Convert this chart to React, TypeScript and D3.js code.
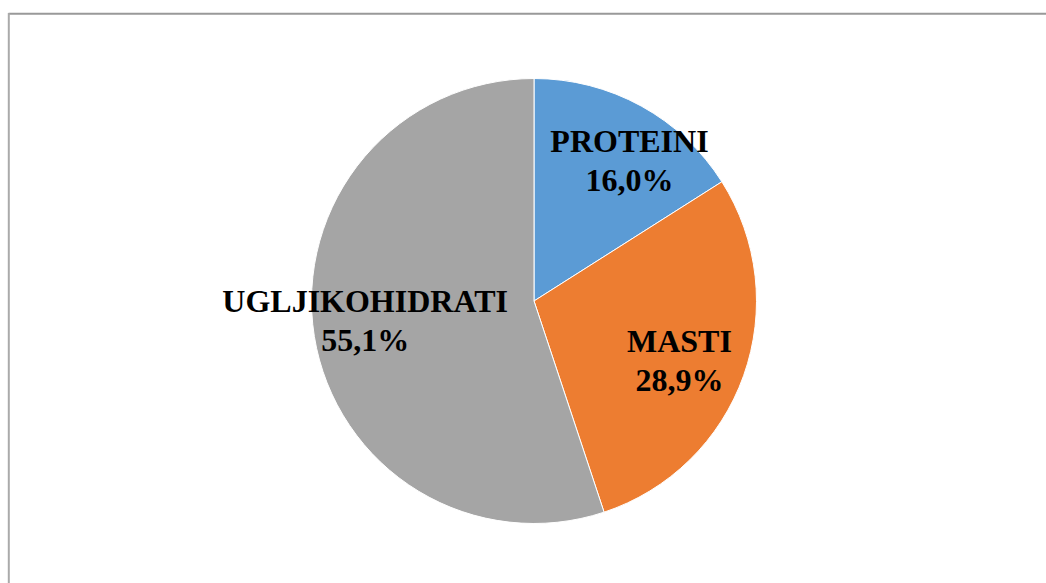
import React from "react";
import * as d3 from "d3";

const categories = ["PROTEINI", "MASTI", "UGLJIKOHIDRATI"];
const values = [16.0, 28.9, 55.1];
const valueLabels = ["16,0%", "28,9%", "55,1%"];
const colors = ["#5B9BD5", "#ED7D31", "#A5A5A5"];
const labelOffsets = [
  [16, 15],
  [-10, 15],
  [-6, 4],
];

const W = 1046;
const H = 583;
const cx = 534;
const cy = 301;
const R = 222.5;
const labelR = 165;

export default function App() {
  const pie = d3.pie<number>().sort(null).value((d) => d);
  const arcs = pie(values);
  const arc = d3.arc<d3.PieArcDatum<number>>().innerRadius(0).outerRadius(R);
  const labelArc = d3
    .arc<d3.PieArcDatum<number>>()
    .innerRadius(labelR)
    .outerRadius(labelR);

  return (
    <svg
      width={W}
      height={H}
      style={{ position: "absolute", left: 0, top: 0, background: "#fff" }}
    >
      <rect x={0} y={0} width={W} height={H} fill="#fff" />
      <line x1={8.5} y1={13.8} x2={W} y2={13.8} stroke="#999" strokeWidth={2} />
      <line x1={8.8} y1={13} x2={8.8} y2={H} stroke="#aaa" strokeWidth={2} />
      <g transform={`translate(${cx},${cy})`}>
        {arcs.map((a, i) => (
          <path
            key={i}
            d={arc(a) || ""}
            fill={colors[i]}
            stroke="#fff"
            strokeWidth={1}
          />
        ))}
        {arcs.map((a, i) => {
          const [x, y] = labelArc.centroid(a);
          const lx = x + labelOffsets[i][0];
          const ly = y + labelOffsets[i][1];
          return (
            <text
              key={"t" + i}
              x={lx}
              y={ly}
              textAnchor="middle"
              fontFamily="'Liberation Serif', 'Times New Roman', serif"
              fontWeight="bold"
              fontSize={32}
              fill="#000"
            >
              <tspan x={lx} y={ly - 19.5}>
                {categories[i]}
              </tspan>
              <tspan x={lx} y={ly + 19.5}>
                {valueLabels[i]}
              </tspan>
            </text>
          );
        })}
      </g>
    </svg>
  );
}
